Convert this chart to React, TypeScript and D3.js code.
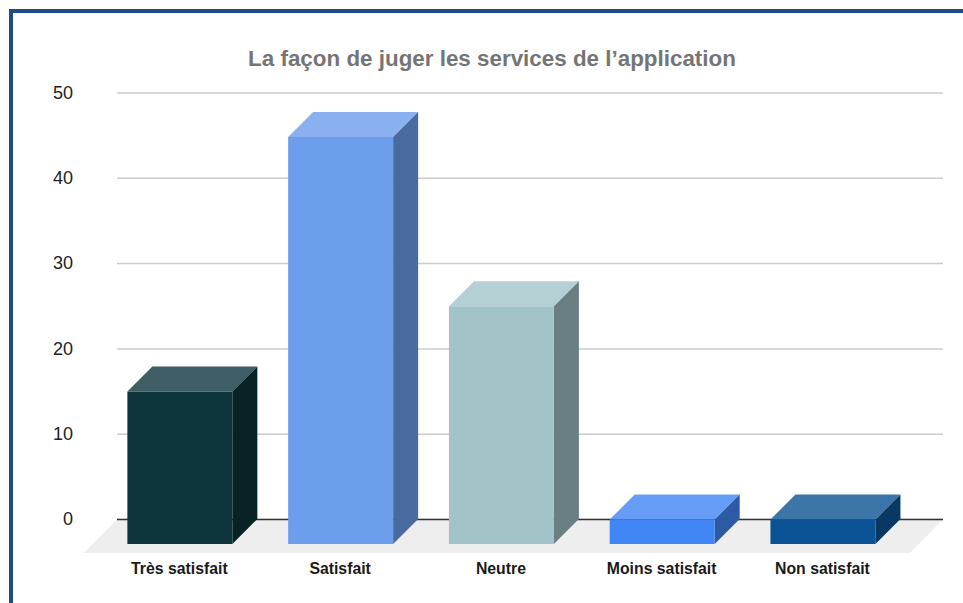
import React from "react";
import * as d3 from "d3";

const categories = ["Très satisfait", "Satisfait", "Neutre", "Moins satisfait", "Non satisfait"];
const values = [15, 44.85, 25, 0, 0];
const frontColors = ["#0e343c", "#6d9eeb", "#a2c4c9", "#4285f4", "#0b5394"];
const topColors = ["#3f5d64", "#8ab1ef", "#b5d0d4", "#669df6", "#3c76a9"];
const sideColors = ["#082226", "#4a6b9f", "#6a7f82", "#2c5aa5", "#083964"];
const yTicks = [0, 10, 20, 30, 40, 50];
const title = "La façon de juger les services de l’application";

const W = 963, H = 603;
const FONT = "'Liberation Sans', Arial, sans-serif";

export default function App() {
  const y = d3.scaleLinear().domain([0, 50]).range([519.5, 93]);
  const x = d3.scaleBand<string>().domain(categories).range([99.4, 903.4]).paddingInner(0.347).paddingOuter(0.174);
  const base = 544;
  const depth = 25;
  const floorBottom = 553;
  const floorPts = [[84, floorBottom], [910, floorBottom], [943, y(0)], [117, y(0)]].map(p => p.join(",")).join(" ");
  return (
    <svg width={W} height={H} viewBox={`0 0 ${W} ${H}`} style={{ position: "absolute", left: 0, top: 0, background: "#fff" }}>
      <path d={`M11 ${H}V11H${W}`} fill="none" stroke="#1f4e85" strokeWidth={4} />
      <text x={492} y={66} textAnchor="middle" fontFamily={FONT} fontSize={22.4} fontWeight="bold" fill="#757575">{title}</text>
      {yTicks.map(t => (
        <g key={t}>
          <line x1={117} x2={943} y1={y(t)} y2={y(t)} stroke="#cccccc" strokeWidth={1.5} />
          <text x={73} y={y(t) + 5.6} textAnchor="end" fontFamily={FONT} fontSize={18} fill="#222222">{t}</text>
        </g>
      ))}
      <polygon points={floorPts} fill="#eeeeee" />
      <line x1={117} x2={943} y1={y(0)} y2={y(0)} stroke="#333333" strokeWidth={1.5} />
      {categories.map((c, i) => {
        const x0 = x(c)!;
        const x1 = x0 + x.bandwidth();
        const top = y(values[i]);
        return (
          <g key={c}>
            <polygon points={`${x0},${top} ${x1},${top} ${x1 + depth},${top - depth} ${x0 + depth},${top - depth}`} fill={topColors[i]} />
            <polygon points={`${x1},${top} ${x1 + depth},${top - depth} ${x1 + depth},${base - depth} ${x1},${base}`} fill={sideColors[i]} />
            <rect x={x0} y={top} width={x.bandwidth()} height={base - top} fill={frontColors[i]} />
            <text x={x0 + x.bandwidth() / 2 - 0.5} y={573.5} textAnchor="middle" fontFamily={FONT} fontSize={15.8} fontWeight="bold" fill="#1a1a1a">{c}</text>
          </g>
        );
      })}
    </svg>
  );
}
